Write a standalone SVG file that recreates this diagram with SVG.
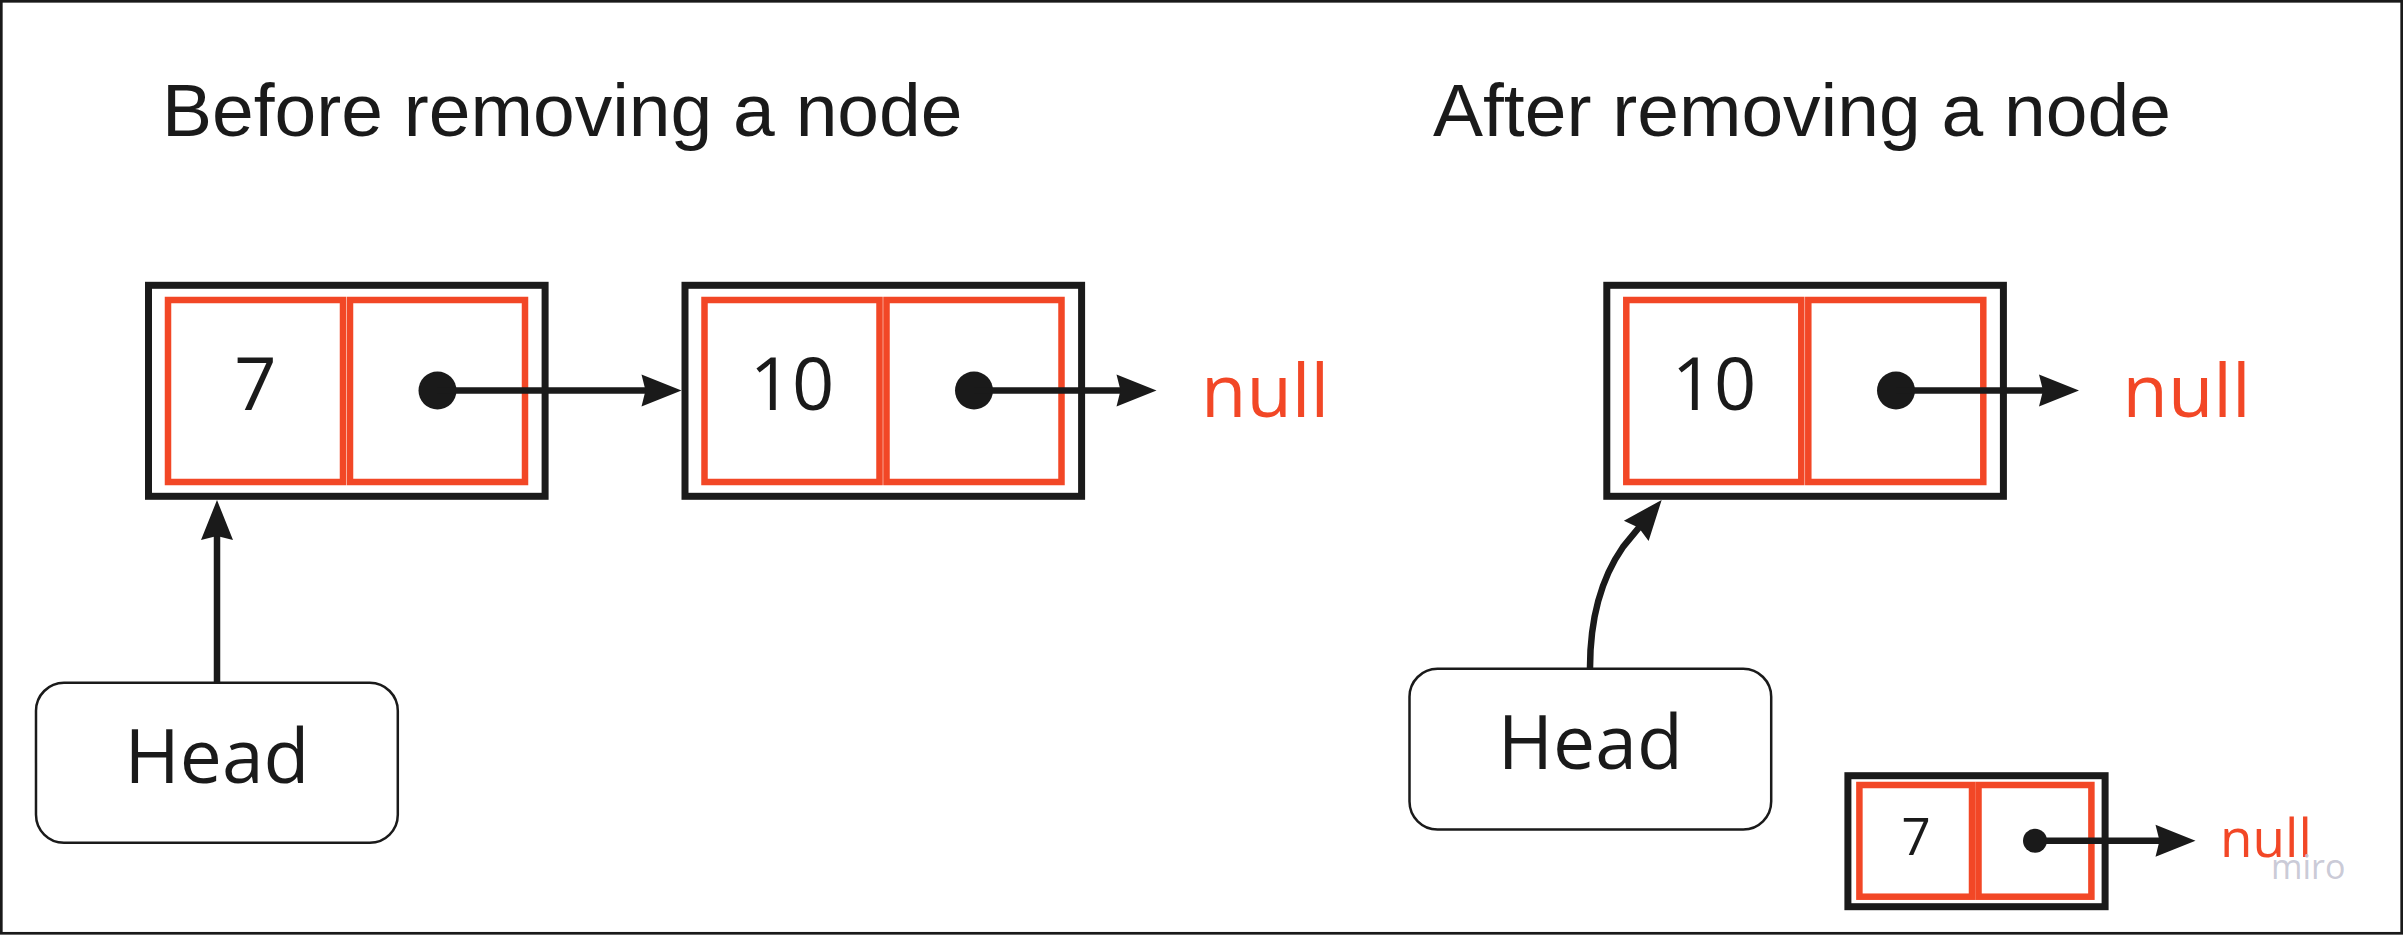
<svg xmlns="http://www.w3.org/2000/svg" width="2403" height="936" viewBox="0 0 2403 936">
<style>
.title{font-family:"Liberation Sans",Arial,sans-serif;font-size:75px;fill:#1a1a1a}
.val{font-family:"Open Sans","Noto Sans",sans-serif;fill:#1a1a1a;text-anchor:middle}
.null{font-family:"Open Sans","Noto Sans",sans-serif;fill:#f24726}
.outer{fill:#ffffff;stroke:#1a1a1a;stroke-width:7}
.cell{fill:none;stroke:#f24726;stroke-width:6.5}
.dot{fill:#1a1a1a}
.head{fill:#ffffff;stroke:#1a1a1a;stroke-width:2.5}
.conn{fill:none;stroke:#1a1a1a;stroke-width:6.5;marker-end:url(#arr)}
</style>
<defs>
<marker id="arr" markerUnits="userSpaceOnUse" markerWidth="44" markerHeight="36" refX="30" refY="16" orient="auto" overflow="visible">
<path d="M0,0 L40,16 L0,32 L4,16 Z" fill="#1a1a1a"/>
</marker>
</defs>
<rect x="0" y="0" width="2403" height="936" fill="#ffffff"/>
<rect x="1.3" y="1.3" width="2400.4" height="932" fill="none" stroke="#1a1a1a" stroke-width="2.7"/>

<text class="title" x="162" y="136">Before removing a node</text>
<text class="title" x="1433" y="136">After removing a node</text>

<g id="node-7">
<rect class="outer" x="148.5" y="285.3" width="396.6" height="211"/>
<rect class="cell" x="168" y="300" width="175" height="182"/>
<rect class="cell" x="350" y="300" width="175" height="182"/>
<text class="val" x="255.5" y="410" font-size="74">7</text>
<circle class="dot" cx="437.5" cy="390.5" r="19"/>
</g>

<g id="node-10-before">
<rect class="outer" x="685" y="285.3" width="396.6" height="211"/>
<rect class="cell" x="704.5" y="300" width="175" height="182"/>
<rect class="cell" x="886.5" y="300" width="175" height="182"/>
<text class="val" x="792" y="410" font-size="74">10</text>
<circle class="dot" cx="974" cy="390.5" r="19"/>
</g>
<text id="null-before" class="null" x="1201" y="417" font-size="74">null</text>

<g id="head-before">
<rect class="head" x="36" y="682.8" width="361.8" height="160" rx="28"/>
<text class="val" x="217" y="783.3" font-size="75">Head</text>
</g>

<g id="node-10-after">
<rect class="outer" x="1606.8" y="285.3" width="396.6" height="211"/>
<rect class="cell" x="1626.3" y="300" width="175" height="182"/>
<rect class="cell" x="1808.3" y="300" width="175" height="182"/>
<text class="val" x="1714" y="410" font-size="74">10</text>
<circle class="dot" cx="1896" cy="390.5" r="19"/>
</g>
<text id="null-after" class="null" x="2122.6" y="417" font-size="74">null</text>

<g id="head-after">
<rect class="head" x="1409.5" y="668.8" width="361.7" height="160.7" rx="28"/>
<text class="val" x="1590.3" y="769.3" font-size="75">Head</text>
</g>

<g id="node-7-removed">
<rect class="outer" x="1847.9" y="775.7" width="257.2" height="131"/>
<rect class="cell" x="1859.4" y="785" width="112.6" height="111.7"/>
<rect class="cell" x="1978.5" y="785" width="112.9" height="111.7"/>
<text class="val" x="1916" y="855" font-size="51">7</text>
<circle class="dot" cx="2035" cy="840.7" r="12"/>
</g>
<text id="null-removed" class="null" x="2220" y="857" font-size="53">null</text>

<g id="connectors">
<path class="conn" d="M437.5,390.5 L671.5,390.5"/>
<path class="conn" d="M974,390.5 L1146.5,390.5"/>
<path class="conn" d="M217,682.8 L217,510"/>
<path class="conn" d="M1896,390.5 L2069,390.5"/>
<path class="conn" d="M1590,668 C1590,620 1600,580 1623,547 L1655.3,507.7"/>
<path class="conn" d="M2035,840.7 L2185.5,840.7"/>
</g>

<text x="2271" y="878.5" font-family="Open Sans, Noto Sans, sans-serif" font-size="34" fill="#c4c4d2" fill-opacity="0.9">miro</text>
</svg>
